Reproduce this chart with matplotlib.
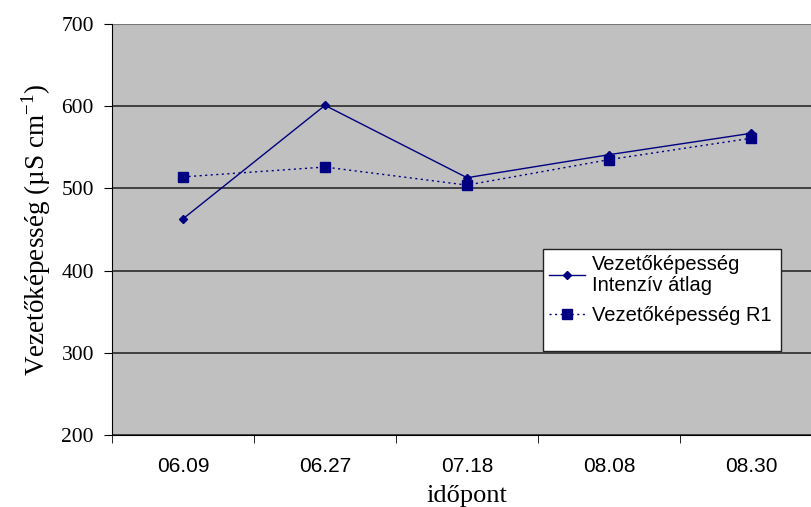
import numpy as np
import matplotlib.pyplot as plt
from matplotlib.patches import Rectangle

# adatok
idopont = ["06.09", "06.27", "07.18", "08.08", "08.30"]
intenziv = [463, 601, 513, 541, 567]
r1 = [514, 526, 504, 535, 561]

yticks = [200, 300, 400, 500, 600, 700]

navy = "#000080"

fig = plt.figure(figsize=(8.11, 5.07), dpi=100)
ax = fig.add_axes([112 / 811, 72 / 507, 710 / 811, 411 / 507])
ax.set_facecolor("#c0c0c0")

x = np.arange(len(idopont))
ax.plot(x, intenziv, color=navy, lw=1, marker="D", ms=4.5,
        label="Vezetőképesség\nIntenzív átlag")
ax.plot(x, r1, color=navy, lw=1, ls=(0, (1.5, 2.5)), marker="s", ms=6.5,
        label="Vezetőképesség R1")

ax.set_xlim(-0.5, len(idopont) - 0.5)
ax.set_ylim(200, 700)
ax.set_yticks(yticks)
ax.set_xticks(x)
ax.set_xticklabels(idopont)
ax.set_xticks(np.arange(-0.5, len(idopont)), minor=True)
ax.tick_params(axis="x", which="major", length=0, pad=16,
               labelfontfamily="Liberation Sans", labelsize=15)
ax.tick_params(axis="x", which="minor", length=6, direction="out", color="black")
ax.tick_params(axis="y", length=6, direction="out", pad=7,
               labelfontfamily="Liberation Serif", labelsize=15.5)

ax.yaxis.grid(True, color="#2a2a2a", lw=1.2)
ax.set_axisbelow(True)
for s in ["top", "right"]:
    ax.spines[s].set_visible(False)
ax.spines["left"].set_color("black")
ax.spines["bottom"].set_color("black")
ax.axhline(700, color="#777777", lw=1.5)

ax.set_ylabel("Vezetőképesség (µS cm$^{\\mathregular{-1}}$)", family="Liberation Serif",
              fontsize=19.5, labelpad=6)
ax.set_xlabel("időpont", family="Liberation Serif", fontsize=19, labelpad=6)

# jelmagyarazat keret kulon
fig.patches.append(Rectangle((543 / 811, 1 - 351 / 507), 238 / 811, 102 / 507,
                             transform=fig.transFigure, facecolor="white",
                             edgecolor="#222222", lw=1, zorder=5))
leg = fig.legend(loc="upper left", bbox_to_anchor=(547 / 811, 1 - 253 / 507),
                 prop={"family": "Liberation Sans", "size": 14.5},
                 frameon=False, borderaxespad=0, handlelength=1.8,
                 handletextpad=0.35, borderpad=0.1, labelspacing=0.55)
leg.set_zorder(6)
for t in leg.get_texts():
    t.set_linespacing(1.1)

fig.savefig("out.png", dpi=100)
